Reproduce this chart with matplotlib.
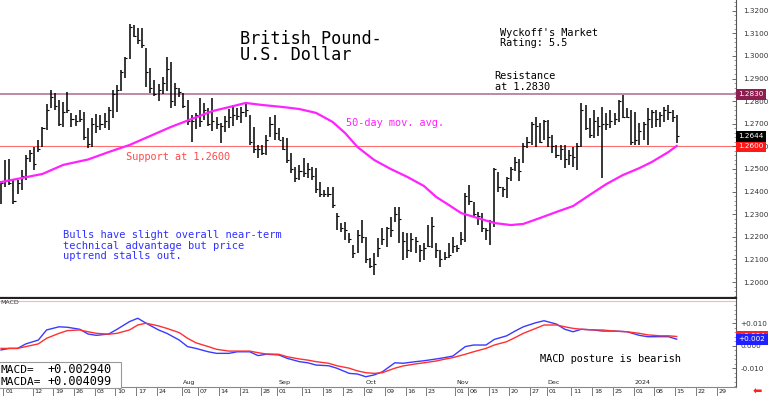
import math
import matplotlib
matplotlib.use('Agg')
import matplotlib.pyplot as plt
import matplotlib.transforms as mtransforms
from matplotlib.patches import Rectangle
import pandas as pd

# trading days, Jun 1 2023 .. end of Jan 2024 (bars run to Jan 16)
days = pd.bdate_range('2023-06-01', '2024-01-31')

high = [
    1.2447, 1.2540, 1.2544, 1.2451, 1.2451, 1.2495, 1.2562, 1.2584, 1.2597, 1.2628,
    1.2686, 1.2787, 1.2849, 1.2836, 1.2805, 1.2796, 1.2840, 1.2748, 1.2739, 1.2761,
    1.2752, 1.2681, 1.2726, 1.2743, 1.2739, 1.2748, 1.2774, 1.2849, 1.2871, 1.2938,
    1.2995, 1.3141, 1.3137, 1.3124, 1.3124, 1.3035, 1.2947, 1.2894, 1.2876, 1.2907,
    1.2995, 1.2973, 1.2880, 1.2858, 1.2836, 1.2805, 1.2739, 1.2748, 1.2814, 1.2792,
    1.2770, 1.2814, 1.2730, 1.2703, 1.2734, 1.2765, 1.2783, 1.2770, 1.2774, 1.2796,
    1.2739, 1.2686, 1.2606, 1.2606, 1.2650, 1.2730, 1.2739, 1.2681, 1.2642, 1.2637,
    1.2571, 1.2509, 1.2518, 1.2549, 1.2526, 1.2509, 1.2504, 1.2443, 1.2407, 1.2420,
    1.2420, 1.2305, 1.2261, 1.2265, 1.2217, 1.2164, 1.2230, 1.2274, 1.2199, 1.2106,
    1.2128, 1.2195, 1.2239, 1.2243, 1.2288, 1.2332, 1.2332, 1.2221, 1.2217, 1.2217,
    1.2199, 1.2164, 1.2173, 1.2252, 1.2288, 1.2173, 1.2142, 1.2133, 1.2173, 1.2199,
    1.2164, 1.2221, 1.2394, 1.2429, 1.2354, 1.2310, 1.2305, 1.2239, 1.2274, 1.2504,
    1.2487, 1.2420, 1.2465, 1.2509, 1.2553, 1.2544, 1.2615, 1.2642, 1.2708, 1.2730,
    1.2703, 1.2717, 1.2717, 1.2650, 1.2606, 1.2606, 1.2606, 1.2584, 1.2597, 1.2615,
    1.2792, 1.2783, 1.2726, 1.2761, 1.2730, 1.2774, 1.2748, 1.2761, 1.2748, 1.2805,
    1.2827, 1.2770, 1.2761, 1.2752, 1.2703, 1.2708, 1.2770, 1.2761, 1.2761, 1.2752,
    1.2774, 1.2783, 1.2761, 1.2739]

low = [
    1.2345, 1.2420, 1.2429, 1.2345, 1.2389, 1.2407, 1.2451, 1.2531, 1.2495, 1.2575,
    1.2597, 1.2673, 1.2770, 1.2761, 1.2690, 1.2686, 1.2748, 1.2686, 1.2690, 1.2708,
    1.2628, 1.2593, 1.2597, 1.2659, 1.2673, 1.2681, 1.2673, 1.2726, 1.2752, 1.2845,
    1.2902, 1.2986, 1.3084, 1.3053, 1.3035, 1.2862, 1.2836, 1.2823, 1.2801, 1.2832,
    1.2845, 1.2770, 1.2778, 1.2818, 1.2770, 1.2694, 1.2619, 1.2677, 1.2686, 1.2717,
    1.2690, 1.2668, 1.2677, 1.2615, 1.2664, 1.2681, 1.2690, 1.2717, 1.2703, 1.2730,
    1.2606, 1.2571, 1.2549, 1.2562, 1.2562, 1.2642, 1.2628, 1.2628, 1.2584, 1.2526,
    1.2482, 1.2443, 1.2451, 1.2465, 1.2460, 1.2451, 1.2394, 1.2376, 1.2376, 1.2376,
    1.2327, 1.2230, 1.2221, 1.2186, 1.2173, 1.2106, 1.2128, 1.2173, 1.2084, 1.2062,
    1.2031, 1.2111, 1.2164, 1.2155, 1.2199, 1.2265, 1.2173, 1.2098, 1.2106, 1.2133,
    1.2128, 1.2089, 1.2098, 1.2155, 1.2151, 1.2106, 1.2067, 1.2098, 1.2106, 1.2128,
    1.2133, 1.2164, 1.2177, 1.2341, 1.2288, 1.2252, 1.2221, 1.2186, 1.2164, 1.2243,
    1.2398, 1.2376, 1.2372, 1.2447, 1.2491, 1.2447, 1.2526, 1.2593, 1.2606, 1.2597,
    1.2615, 1.2628, 1.2597, 1.2571, 1.2549, 1.2540, 1.2504, 1.2518, 1.2509, 1.2495,
    1.2597, 1.2673, 1.2637, 1.2637, 1.2646, 1.2460, 1.2673, 1.2681, 1.2694, 1.2708,
    1.2726, 1.2726, 1.2606, 1.2606, 1.2606, 1.2628, 1.2606, 1.2681, 1.2686, 1.2686,
    1.2708, 1.2717, 1.2708, 1.2615]

close = [
    1.2440, 1.2450, 1.2440, 1.2360, 1.2440, 1.2470, 1.2550, 1.2570, 1.2520, 1.2590,
    1.2680, 1.2760, 1.2820, 1.2780, 1.2700, 1.2750, 1.2760, 1.2720, 1.2710, 1.2720,
    1.2640, 1.2610, 1.2700, 1.2690, 1.2700, 1.2710, 1.2760, 1.2830, 1.2850, 1.2930,
    1.2990, 1.3130, 1.3090, 1.3070, 1.3050, 1.2930, 1.2860, 1.2830, 1.2850, 1.2880,
    1.2940, 1.2800, 1.2860, 1.2840, 1.2780, 1.2710, 1.2710, 1.2740, 1.2710, 1.2760,
    1.2700, 1.2710, 1.2700, 1.2690, 1.2710, 1.2730, 1.2740, 1.2735, 1.2750, 1.2760,
    1.2620, 1.2590, 1.2590, 1.2570, 1.2630, 1.2700, 1.2660, 1.2630, 1.2590, 1.2540,
    1.2500, 1.2460, 1.2490, 1.2480, 1.2500, 1.2470, 1.2410, 1.2390, 1.2390, 1.2390,
    1.2340, 1.2290, 1.2240, 1.2230, 1.2190, 1.2130, 1.2210, 1.2200, 1.2100, 1.2070,
    1.2080, 1.2150, 1.2190, 1.2240, 1.2230, 1.2300, 1.2280, 1.2180, 1.2140, 1.2190,
    1.2180, 1.2140, 1.2150, 1.2160, 1.2250, 1.2140, 1.2100, 1.2110, 1.2120, 1.2160,
    1.2150, 1.2190, 1.2380, 1.2360, 1.2300, 1.2290, 1.2240, 1.2230, 1.2270, 1.2500,
    1.2420, 1.2410, 1.2460, 1.2500, 1.2530, 1.2490, 1.2600, 1.2620, 1.2700, 1.2690,
    1.2620, 1.2710, 1.2640, 1.2600, 1.2560, 1.2590, 1.2545, 1.2560, 1.2555, 1.2600,
    1.2760, 1.2680, 1.2650, 1.2710, 1.2690, 1.2700, 1.2700, 1.2710, 1.2720, 1.2800,
    1.2730, 1.2730, 1.2620, 1.2630, 1.2670, 1.2700, 1.2720, 1.2750, 1.2720, 1.2740,
    1.2760, 1.2750, 1.2730, 1.2644]

# 50-day moving average, read at a subset of bars
ma_idx = [0, 10, 15, 21, 26, 31, 36, 41, 46, 51, 56, 59, 63, 68, 72, 76, 80, 83, 86, 90,
          94, 98, 102, 105, 108, 111, 115, 119, 123, 126, 130, 134, 138, 142, 146, 150, 154, 157, 161, 163]
ma50 = [1.2442, 1.2478, 1.2518, 1.2542, 1.2575, 1.2606, 1.2646, 1.2686, 1.2721, 1.2756,
        1.2778, 1.2792, 1.2783, 1.2774, 1.2765, 1.2748, 1.2708, 1.2659, 1.2597, 1.2540,
        1.2500, 1.2465, 1.2425, 1.2376, 1.2341, 1.2305, 1.2283, 1.2261, 1.2252, 1.2257,
        1.2283, 1.2310, 1.2336, 1.2385, 1.2433, 1.2473, 1.2504, 1.2531, 1.2575, 1.2602]

macd_idx = [0, 2, 4, 6, 9, 11, 14, 16, 19, 21, 23, 26, 28, 31, 33, 35, 38, 40, 43, 45,
            47, 50, 52, 55, 57, 60, 62, 64, 67, 69, 72, 74, 76, 79, 81, 84, 86, 88, 90, 92,
            95, 97, 100, 102, 105, 107, 109, 112, 114, 117, 119, 122, 124, 126, 129, 131,
            134, 136, 138, 140, 143, 145, 148, 151, 154, 156, 159, 161, 163]
macd = [-0.0019, -0.0012, -0.0012, 0.0008, 0.0025, 0.0070, 0.0084, 0.0082, 0.0073, 0.0052,
        0.0046, 0.0052, 0.0073, 0.0107, 0.0122, 0.0100, 0.0070, 0.0055, 0.0025, -0.0004,
        -0.0012, -0.0027, -0.0034, -0.0034, -0.0027, -0.0027, -0.0044, -0.0038, -0.0041, -0.0056,
        -0.0071, -0.0076, -0.0086, -0.0089, -0.0100, -0.0123, -0.0126, -0.0138, -0.0130, -0.0116,
        -0.0076, -0.0078, -0.0071, -0.0067, -0.0059, -0.0053, -0.0046, -0.0004, 0.0003, 0.0003,
        0.0028, 0.0044, 0.0065, 0.0084, 0.0102, 0.0111, 0.0096, 0.0073, 0.0062, 0.0073,
        0.0070, 0.0065, 0.0065, 0.0062, 0.0046, 0.0040, 0.0040, 0.0040, 0.0029]
macda = [-0.0012, -0.0012, -0.0012, -0.0004, 0.0008, 0.0033, 0.0055, 0.0067, 0.0070, 0.0062,
         0.0055, 0.0051, 0.0055, 0.0070, 0.0092, 0.0100, 0.0088, 0.0077, 0.0058, 0.0033,
         0.0013, -0.0004, -0.0016, -0.0024, -0.0024, -0.0024, -0.0031, -0.0037, -0.0038, -0.0049,
         -0.0059, -0.0064, -0.0071, -0.0078, -0.0089, -0.0100, -0.0112, -0.0120, -0.0123, -0.0120,
         -0.0100, -0.0090, -0.0081, -0.0076, -0.0068, -0.0060, -0.0053, -0.0038, -0.0027, -0.0012,
         0.0003, 0.0018, 0.0036, 0.0055, 0.0077, 0.0092, 0.0092, 0.0084, 0.0077, 0.0073,
         0.0070, 0.0070, 0.0065, 0.0062, 0.0055, 0.0048, 0.0044, 0.0044, 0.0041]

macd_last = 0.002940
macda_last = 0.004099

tick_dates = ['2023-06-01', '2023-06-12', '2023-06-19', '2023-06-26', '2023-07-03', '2023-07-10',
              '2023-07-17', '2023-07-24', '2023-08-01', '2023-08-07', '2023-08-14', '2023-08-21',
              '2023-08-28', '2023-09-01', '2023-09-11', '2023-09-18', '2023-09-25', '2023-10-02',
              '2023-10-09', '2023-10-16', '2023-10-23', '2023-11-01', '2023-11-06', '2023-11-13',
              '2023-11-20', '2023-11-27', '2023-12-01', '2023-12-11', '2023-12-18', '2023-12-25',
              '2024-01-01', '2024-01-08', '2024-01-15', '2024-01-22', '2024-01-29']
month_marks = {'2023-08-01': 'Aug', '2023-09-01': 'Sep', '2023-10-02': 'Oct',
               '2023-11-01': 'Nov', '2023-12-01': 'Dec', '2024-01-01': '2024'}

resistance = 1.2830
support = 1.2600
last_close = close[-1]

W, H = 768, 396
fig = plt.figure(figsize=(W / 100, H / 100), dpi=100)
ax1 = fig.add_axes([0, 1 - 297.7 / H, 736 / W, 297.7 / H])
ax2 = fig.add_axes([0, 1 - 387 / H, 736 / W, (387 - 298.5) / H])

idx = list(range(len(high)))
xl = (-0.24, 177.3)

# price bars
ax1.vlines(idx, low, high, color='black', lw=1.1)
ax1.hlines(close, [i for i in idx], [i + 0.5 for i in idx], color='black', lw=0.8)
ax1.plot(ma_idx, ma50, color='#ff22ff', lw=1.6)
ax1.axhline(resistance, color='#b7809c', lw=1.3, zorder=0)
ax1.axhline(support, color='#ff6e6e', lw=0.8, zorder=0)

ax1.set_xlim(*xl)
ax1.set_ylim(1.19307, 1.32473)
ax1.set_xticks([])
for s in ['top', 'left']:
    ax1.spines[s].set_visible(False)
ax1.spines['right'].set_color('#555555')
ax1.spines['right'].set_linewidth(0.8)
ax1.spines['bottom'].set_color('#222222')
ax1.spines['bottom'].set_linewidth(1.6)
ax1.yaxis.tick_right()
ax1.set_yticks([1.20 + 0.01 * k for k in range(13)])
ax1.set_yticklabels(['%.4f' % (1.20 + 0.01 * k) for k in range(13)])
ax1.set_yticks([1.194 + 0.002 * k for k in range(66)], minor=True)
ax1.tick_params(axis='y', which='major', direction='in', length=3, width=0.6, pad=5,
                labelsize=5.2, labelcolor='#333333', color='#555555')
ax1.tick_params(axis='y', which='minor', direction='in', length=1.5, width=0.5, color='#777777')

tr1 = mtransforms.blended_transform_factory(ax1.transAxes, ax1.transData)


def tag(ax, tr, y, s, fc, z):
    ax.text(1.003, y, s, transform=tr, ha='left', va='center', fontsize=5.2, color='white',
            zorder=z, clip_on=False,
            bbox=dict(boxstyle='square,pad=0.35', fc=fc, ec='none'))


def trunc3(v):
    return '+%.3f' % (math.floor(v * 1000) / 1000)


tag(ax1, tr1, resistance, '%.4f' % resistance, '#8c1f4f', 5)
tag(ax1, tr1, ma50[-1] + 0.0004, '      ', '#ff22ff', 4)
tag(ax1, tr1, support, '%.4f' % support, '#ff1a1a', 5)
tag(ax1, tr1, last_close, '%.4f' % last_close, 'black', 6)

# MACD panel
ax2.plot(macd_idx, macd, color='#3a3aff', lw=1.0)
ax2.plot(macd_idx, macda, color='#ff3030', lw=1.0)
ax2.axhline(0.0199, color='#ffb3b3', lw=0.8)
ax2.set_xlim(*xl)
ax2.set_ylim(-0.01836, 0.02098)
for s in ['top', 'left']:
    ax2.spines[s].set_visible(False)
ax2.spines['right'].set_color('#555555')
ax2.spines['right'].set_linewidth(0.8)
ax2.spines['bottom'].set_color('#888888')
ax2.spines['bottom'].set_linewidth(0.8)
ax2.yaxis.tick_right()
ax2.set_yticks([-0.01, 0.0, 0.01])
ax2.set_yticklabels(['-0.010', '0.000', '+0.010'])
ax2.set_yticks([-0.018 + 0.002 * k for k in range(20)], minor=True)
ax2.tick_params(axis='y', which='major', direction='in', length=3, width=0.6, pad=3,
                labelsize=5.2, labelcolor='#333333', color='#555555')
ax2.tick_params(axis='y', which='minor', direction='in', length=1.5, width=0.5, color='#777777')

tr2 = mtransforms.blended_transform_factory(ax2.transAxes, ax2.transData)
tag(ax2, tr2, macda_last, trunc3(macda_last), '#ff2020', 5)
tag(ax2, tr2, macd_last, trunc3(macd_last), '#2020ff', 6)

# date axis
tick_pos = [days.get_loc(pd.Timestamp(d)) + 0.6 for d in tick_dates]
ax2.set_xticks(tick_pos)
ax2.tick_params(axis='x', direction='out', length=6.5, width=0.6, color='#666666',
                labelbottom=False)
trx = mtransforms.blended_transform_factory(ax2.transData, ax2.transAxes)
for d, p in zip(tick_dates, tick_pos):
    ax2.text(p + 0.4, -0.047, d[-2:], transform=trx, ha='left', va='center',
             fontsize=4.6, color='#222222', clip_on=False)
    if d in month_marks:
        ax2.text(p + 0.3, 0.05, month_marks[d], transform=trx, ha='left', va='center',
                 fontsize=4.6, color='#222222', clip_on=False)

mono = 'DejaVu Sans Mono'


def ftext(x, y, s, **kw):
    fig.text(x / W, 1 - y / H, s, va='baseline', family=mono, **kw)


ftext(240, 43.5, 'British Pound-', fontsize=12.2, color='black')
ftext(240, 60.5, 'U.S. Dollar', fontsize=12.2, color='black')
ftext(500.5, 36, "Wyckoff's Market", fontsize=7.4, color='black')
ftext(500.5, 46.5, 'Rating: 5.5', fontsize=7.4, color='black')
ftext(494.7, 79.3, 'Resistance', fontsize=7.4, color='black')
ftext(494.7, 89.5, 'at 1.2830', fontsize=7.4, color='black')
ftext(346, 126, '50-day mov. avg.', fontsize=7.4, color='#ff22ff')
ftext(126, 160.5, 'Support at 1.2600', fontsize=7.4, color='#ff4a4a')
ftext(63, 238.3, 'Bulls have slight overall near-term', fontsize=7.5, color='#3030ff')
ftext(63, 248.8, 'technical advantage but price', fontsize=7.5, color='#3030ff')
ftext(63, 259.3, 'uptrend stalls out.', fontsize=7.5, color='#3030ff')
ftext(540, 361.5, 'MACD posture is bearish', fontsize=7.4, color='black')

# MACD readout box
fig.add_artist(Rectangle((-1 / W, 1 - 388 / H), 121.7 / W, 26 / H, transform=fig.transFigure,
                         fc='white', ec='#999999', lw=0.8, zorder=2))
ftext(0.5, 373.3, 'MACD=', fontsize=8.0, color='black', zorder=3)
ftext(47, 373.3, '+%.6f' % macd_last, fontsize=8.6, color='black', zorder=3)
ftext(0.5, 385, 'MACDA=', fontsize=8.0, color='black', zorder=3)
ftext(47, 385, '+%.6f' % macda_last, fontsize=8.6, color='black', zorder=3)
fig.text(0.5 / W, 1 - 303 / H, 'MACD', fontsize=4.5, color='#333333', va='center')

fig.text(757 / W, 1 - 392 / H, '\u2b05', fontsize=8, color='#ff2020', ha='center', va='center')

fig.savefig('out.png', dpi=100)
